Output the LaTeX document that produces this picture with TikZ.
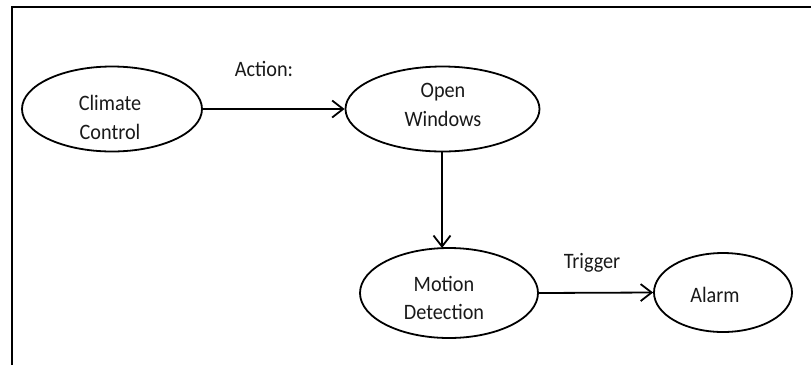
\documentclass[tikz,border=0pt]{standalone}
\usepackage{fontspec}
\setmainfont{Carlito}[FakeStretch=0.92]
\usetikzlibrary{shapes.geometric,arrows.meta}

\begin{document}
\begin{tikzpicture}[x=1pt,y=-1pt,
  state/.style={draw=black, line width=1.8pt, ellipse, inner sep=0pt},
  txt/.style={align=center, font=\fontsize{22}{28.5}\selectfont, text=black!90, inner sep=0pt},
  flow/.style={draw=black, line width=1.8pt, -{Straight Barb[length=11pt,width=17pt,line width=1.8pt]}}
]
\useasboundingbox (0,0) rectangle (811,365);

% open frame: left and top edges only
\draw[line width=2pt] (11.5,365) -- (11.5,6.5) -- (811,6.5);

% states
\node[state, minimum width=180, minimum height=85] (cc) at (112,109) {};
\node[txt] (cct) at (110,117.5) {Climate\\Control};

\node[state, minimum width=194, minimum height=85] (ow) at (442.5,109) {};
\node[txt] (owt) at (443,105) {Open\\Windows};

\node[state, minimum width=178, minimum height=90] (md) at (449,293) {};
\node[txt] (mdt) at (444,298) {Motion\\Detection};

\node[state, minimum width=138, minimum height=79] (al) at (723,292.5) {};
\node[txt] (alt) at (715,295) {Alarm};

% transitions
\coordinate (owb) at (442,152);
\coordinate (mdt0) at (442,248);
\draw[flow] (cc.east) -- (ow.west);
\draw[flow] (owb) -- (mdt0);
\draw[flow] (md.east) -- (al.west);

% transition labels
\node[txt] (act) at (264,69) {Action:};
\node[txt] (trg) at (592,263) {Trigger};
\end{tikzpicture}
\end{document}
